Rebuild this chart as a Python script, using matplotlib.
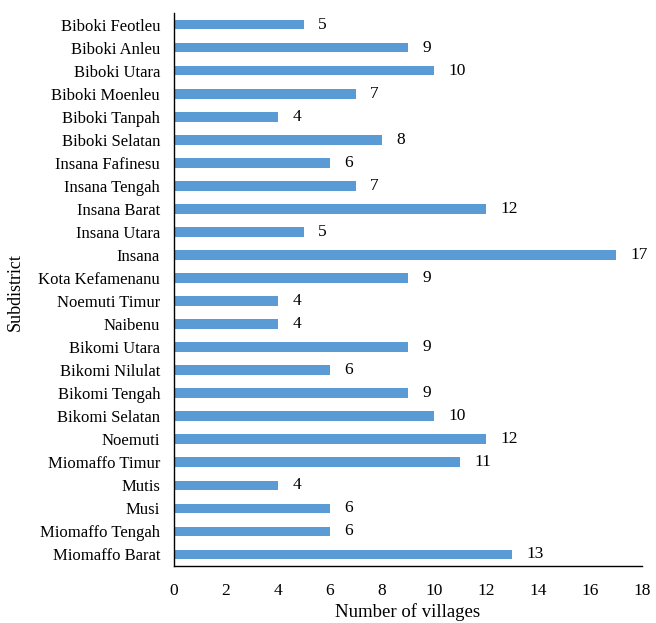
import matplotlib
matplotlib.use("Agg")
import matplotlib.pyplot as plt

subdistricts = [
    "Biboki Feotleu", "Biboki Anleu", "Biboki Utara", "Biboki Moenleu",
    "Biboki Tanpah", "Biboki Selatan", "Insana Fafinesu", "Insana Tengah",
    "Insana Barat", "Insana Utara", "Insana", "Kota Kefamenanu",
    "Noemuti Timur", "Naibenu", "Bikomi Utara", "Bikomi Nilulat",
    "Bikomi Tengah", "Bikomi Selatan", "Noemuti", "Miomaffo Timur",
    "Mutis", "Musi", "Miomaffo Tengah", "Miomaffo Barat",
]
villages = [5, 9, 10, 7, 4, 8, 6, 7, 12, 5, 17, 9, 4, 4, 9, 6, 9, 10, 12, 11, 4, 6, 6, 13]
xticks = list(range(0, 19, 2))

plt.rcParams["font.family"] = ["Liberation Serif", "DejaVu Serif"]
plt.rcParams["font.size"] = 12

fig = plt.figure(figsize=(6.56, 6.23), dpi=100)
ax = fig.add_axes([0.2652, 0.0915, 0.7135, 0.8876])

ypos = list(range(len(subdistricts)))
ax.barh(ypos, villages, height=0.42, color="#5B9BD5")
for y, v in zip(ypos, villages):
    ax.text(v + 0.55, y, str(v), va="center", ha="left", fontsize=12.5)

ax.set_yticks(ypos)
ax.set_yticklabels(subdistricts)
ax.set_ylim(len(subdistricts) - 0.5, -0.5)
ax.set_xlim(0, 18)
ax.set_xticks(xticks)
ax.tick_params(axis="both", length=0)
ax.tick_params(axis="x", pad=12, labelsize=12.5)
ax.tick_params(axis="y", pad=10)

for side in ("top", "right"):
    ax.spines[side].set_visible(False)
for side in ("left", "bottom"):
    ax.spines[side].set_color("black")
    ax.spines[side].set_linewidth(1.0)

ax.set_xlabel("Number of villages", fontsize=13.5)
ax.set_ylabel("Subdistrict", fontsize=13)
ax.xaxis.set_label_coords(0.5, -0.067)
ax.yaxis.set_label_coords(-0.32, 0.495)

fig.savefig("out.png", dpi=100)
